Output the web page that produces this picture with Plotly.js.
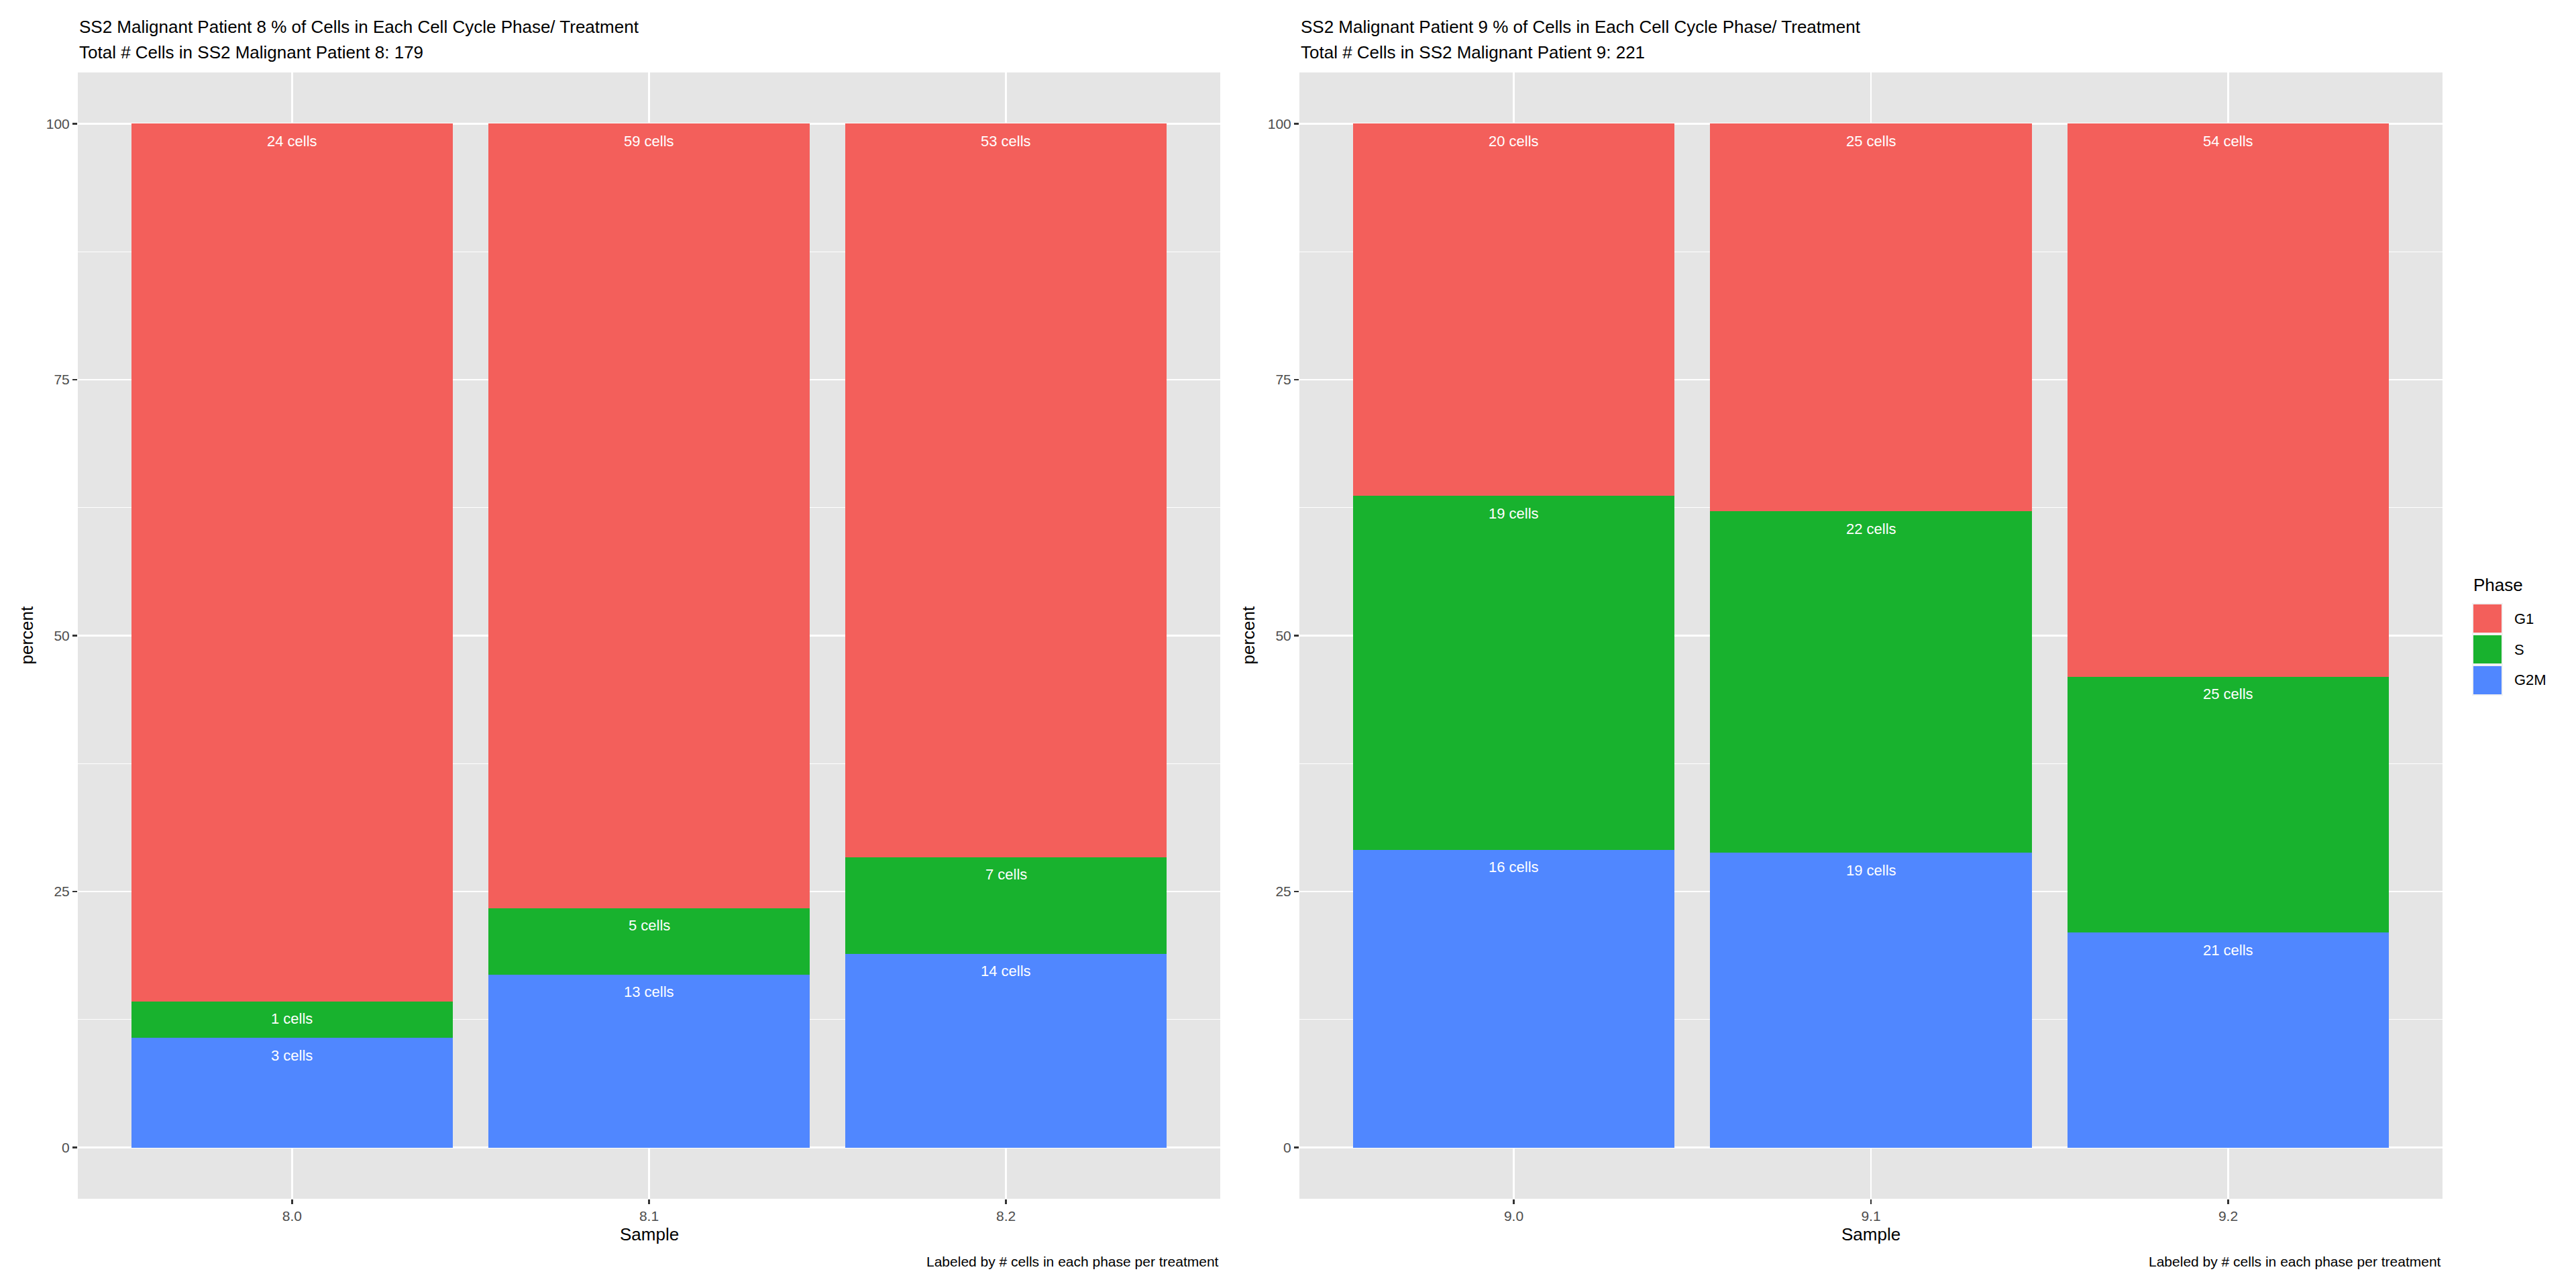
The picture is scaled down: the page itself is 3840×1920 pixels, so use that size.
<!DOCTYPE html>
<html>
<head>
<meta charset="utf-8">
<script src="https://cdn.plot.ly/plotly-3.0.1.min.js"></script>
<style>html,body{margin:0;padding:0;background:#fff;}#chart{width:3840px;height:1920px;}</style>
</head>
<body>
<div id="chart"></div>
<script>
// ---- Data ----
var phases = ['G1', 'S', 'G2M'];
var phaseColors = ['#F35F5B', '#18B22E', '#5087FF'];

var samples8 = ['8.0', '8.1', '8.2'];
var g1_8  = [24, 59, 53];
var s_8   = [1, 5, 7];
var g2m_8 = [3, 13, 14];

var samples9 = ['9.0', '9.1', '9.2'];
var g1_9  = [20, 25, 54];
var s_9   = [19, 22, 25];
var g2m_9 = [16, 19, 21];

var yTicks = [0, 25, 50, 75, 100];
var yMinor = [12.5, 37.5, 62.5, 87.5];

// ---- Helpers ----
var W = 3840, H = 1920;
function px(x) { return x / W; }
function py(y) { return 1 - y / H; }
var FONT = 'Liberation Sans, Arial, Helvetica, sans-serif';

function sum(a) { return a.reduce(function (s, v) { return s + v; }, 0); }

var traces = [];
var annotations = [];

function addPanel(samples, g1, s, g2m, xref, yref) {
  var totals = samples.map(function (_, i) { return g1[i] + s[i] + g2m[i]; });
  var pct = function (arr) { return arr.map(function (v, i) { return v / totals[i] * 100; }); };
  // stacked bottom -> top: G2M, S, G1
  var stack = [
    {name: 'G2M', counts: g2m, color: phaseColors[2]},
    {name: 'S', counts: s, color: phaseColors[1]},
    {name: 'G1', counts: g1, color: phaseColors[0]}
  ];
  var cum = samples.map(function () { return 0; });
  stack.forEach(function (st) {
    var p = pct(st.counts);
    traces.push({
      type: 'bar',
      x: samples,
      y: p,
      name: st.name,
      xaxis: xref,
      yaxis: yref,
      width: samples.map(function () { return 0.9; }),
      marker: {color: st.color, line: {width: 0}},
      showlegend: false,
      hoverinfo: 'skip'
    });
    samples.forEach(function (smp, i) {
      cum[i] += p[i];
      annotations.push({
        x: i, y: cum[i], xref: xref, yref: yref,
        text: st.counts[i] + ' cells',
        showarrow: false, yanchor: 'middle', xanchor: 'center', yshift: -26,
        font: {family: FONT, size: 22, color: '#FFFFFF'}
      });
    });
  });
  return sum(totals);
}

var total8 = addPanel(samples8, g1_8, s_8, g2m_8, 'x', 'y');
var total9 = addPanel(samples9, g1_9, s_9, g2m_9, 'x2', 'y2');

// Panel geometry (pixels)
var P1 = [116, 1819], P2 = [1937, 3641], PT = 108, PB = 1787;

function txt(t, x, y, opts) {
  var a = {text: t, x: x, y: y, xref: 'paper', yref: 'paper', showarrow: false,
    xanchor: 'left', yanchor: 'middle', font: {family: FONT, size: 26, color: '#000000'}};
  for (var k in opts) a[k] = opts[k];
  return a;
}

// Titles
annotations.push(txt('SS2 Malignant Patient 8 % of Cells in Each Cell Cycle Phase/ Treatment', px(P1[0]), py(40)));
annotations.push(txt('Total # Cells in SS2 Malignant Patient 8: ' + total8, px(P1[0]), py(78)));
annotations.push(txt('SS2 Malignant Patient 9 % of Cells in Each Cell Cycle Phase/ Treatment', px(P2[0]), py(40)));
annotations.push(txt('Total # Cells in SS2 Malignant Patient 9: ' + total9, px(P2[0]), py(78)));

// Axis titles
annotations.push(txt('Sample', px((P1[0] + P1[1]) / 2), py(1840), {xanchor: 'center'}));
annotations.push(txt('Sample', px((P2[0] + P2[1]) / 2), py(1840), {xanchor: 'center'}));
annotations.push(txt('percent', px(40), py((PT + PB) / 2), {xanchor: 'center', textangle: -90}));
annotations.push(txt('percent', px(P2[0] - 76), py((PT + PB) / 2), {xanchor: 'center', textangle: -90}));

// Captions
var capFont = {family: FONT, size: 21, color: '#000000'};
annotations.push(txt('Labeled by # cells in each phase per treatment', px(P1[1]), py(1880), {xanchor: 'right', font: capFont}));
annotations.push(txt('Labeled by # cells in each phase per treatment', px(P2[1]), py(1880), {xanchor: 'right', font: capFont}));

// Legend (drawn manually to match ggplot key size)
var shapes = [];
annotations.push(txt('Phase', px(3685), py(872)));
phases.forEach(function (ph, i) {
  var top = 899 + i * 46;
  shapes.push({type: 'rect', xref: 'paper', yref: 'paper', x0: px(3685), x1: px(3731), y0: py(top + 46), y1: py(top),
    fillcolor: '#F2F2F2', line: {width: 0}});
  shapes.push({type: 'rect', xref: 'paper', yref: 'paper', x0: px(3687), x1: px(3729), y0: py(top + 44), y1: py(top + 2),
    fillcolor: phaseColors[i], line: {width: 0}});
  annotations.push(txt(ph, px(3746), py(top + 23), {font: {family: FONT, size: 22, color: '#000000'}}));
});

function xAxis(dom, anchor) {
  return {
    domain: dom, anchor: anchor, type: 'category', range: [-0.6, 2.6],
    showgrid: true, gridcolor: '#FFFFFF', gridwidth: 2.4, zeroline: false, showline: false,
    ticks: 'outside', ticklen: 7, tickwidth: 2.4, tickcolor: '#333333',
    tickfont: {family: FONT, size: 21, color: '#4D4D4D'}, fixedrange: true
  };
}
function yAxis(anchor) {
  return {
    domain: [py(PB), py(PT)], anchor: anchor, range: [-5, 105],
    tickmode: 'array', tickvals: yTicks, ticktext: yTicks.map(String),
    showgrid: true, gridcolor: '#FFFFFF', gridwidth: 2.4, zeroline: false, showline: false,
    ticks: 'outside', ticklen: 7, tickwidth: 2.4, tickcolor: '#333333',
    tickfont: {family: FONT, size: 21, color: '#4D4D4D'},
    minor: {tickmode: 'array', tickvals: yMinor, showgrid: true, gridcolor: '#FFFFFF', gridwidth: 1.2, ticks: ''},
    fixedrange: true
  };
}

var layout = {
  width: W, height: H,
  margin: {l: 0, r: 0, t: 0, b: 0, pad: 0},
  paper_bgcolor: '#FFFFFF', plot_bgcolor: '#E5E5E5',
  barmode: 'stack', showlegend: false,
  xaxis: xAxis([px(P1[0]), px(P1[1])], 'y'),
  yaxis: yAxis('x'),
  xaxis2: xAxis([px(P2[0]), px(P2[1])], 'y2'),
  yaxis2: yAxis('x2'),
  annotations: annotations,
  shapes: shapes,
  font: {family: FONT}
};

Plotly.newPlot('chart', traces, layout, {displayModeBar: false, staticPlot: true});
</script>
</body>
</html>
